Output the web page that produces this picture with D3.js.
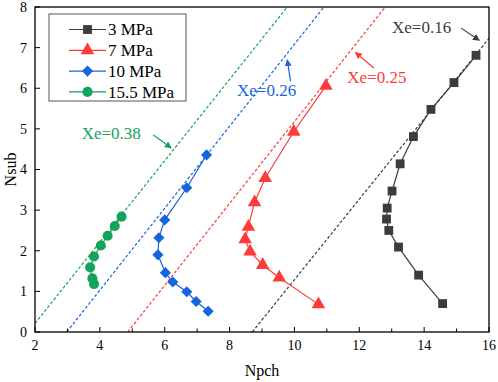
<!DOCTYPE html>
<html lang="en">
<head>
    <meta charset="UTF-8">
    <title>Nsub vs Npch</title>
    <style>
        body, html {
            margin: 0;
            padding: 0;
            background: #fff;
        }
        svg text {
            font-family: "Liberation Serif", "Times New Roman", serif;
        }
    </style>
    <script src="https://d3js.org/d3.v7.min.js"></script>
</head>
<body>
    <div id="chart"></div>
    <script>
        // series values
        const seriesNames = ["3 MPa", "7 MPa", "10 MPa", "15.5 MPa"];
        const npch3 = [15.60, 14.92, 14.21, 13.67, 13.26, 13.01, 12.86, 12.84, 12.91, 13.21, 13.83, 14.57];
        const nsub3 = [6.81, 6.14, 5.48, 4.81, 4.14, 3.47, 3.05, 2.78, 2.50, 2.09, 1.40, 0.70];
        const npch7 = [10.97, 9.98, 9.10, 8.77, 8.58, 8.48, 8.63, 9.02, 9.53, 10.74];
        const nsub7 = [6.06, 4.93, 3.79, 3.19, 2.59, 2.28, 1.98, 1.65, 1.34, 0.68];
        const npch10 = [7.29, 6.68, 6.00, 5.82, 5.79, 6.02, 6.25, 6.68, 6.97, 7.34];
        const nsub10 = [4.36, 3.55, 2.76, 2.32, 1.90, 1.46, 1.23, 0.99, 0.75, 0.51];
        const npch155 = [4.67, 4.46, 4.24, 4.03, 3.82, 3.70, 3.77, 3.82];
        const nsub155 = [2.84, 2.61, 2.37, 2.13, 1.86, 1.59, 1.32, 1.18];

        // constant-quality lines, two end points each [npch, nsub]
        const xeLabels = ["Xe=0.16", "Xe=0.25", "Xe=0.26", "Xe=0.38"];
        const xeLines = [
            [[8.70, 0], [16.0, 7.23]],
            [[4.86, 0], [12.80, 8]],
            [[2.98, 0], [10.91, 8]],
            [[2.0, 0.21], [9.78, 8]]
        ];

        const xTicks = d3.range(2, 17, 1);
        const xLabelTicks = [2, 4, 6, 8, 10, 12, 14, 16];
        const yTicks = [0, 1, 2, 3, 4, 5, 6, 7, 8];

        const colors = ["#3c3c3c", "#fe3b3b", "#1566dc", "#13a35c"];
        const symbols = [d3.symbolSquare, d3.symbolTriangle, d3.symbolSquare, d3.symbolCircle];
        const symSizes = [78, 80, 62, 80];
        const symRotate = [0, 0, 45, 0];

        // annotation placement (data coordinates): text anchor, arrow from -> to
        const notes = [
            {text: [13.01, 7.36], from: [15.14, 7.48], to: [15.70, 7.18]},
            {text: [11.63, 6.13], from: [12.45, 6.50], to: [11.88, 6.88]},
            {text: [8.23, 5.80], from: [9.88, 6.17], to: [9.78, 6.70]},
            {text: [3.44, 4.75], from: [5.65, 4.85], to: [6.20, 4.53]}
        ];

        const width = 498, height = 382;
        const margin = {top: 7, right: 9, bottom: 50, left: 35};
        const iw = width - margin.left - margin.right;
        const ih = height - margin.top - margin.bottom;

        const x = d3.scaleLinear().domain([2, 16]).range([0, iw]);
        const y = d3.scaleLinear().domain([0, 8]).range([ih, 0]);

        const svg = d3.select("#chart").append("svg")
            .attr("width", width)
            .attr("height", height);

        const defs = svg.append("defs");
        defs.append("clipPath").attr("id", "plotClip")
            .append("rect").attr("width", iw).attr("height", ih);

        colors.forEach((c, i) => {
            defs.append("marker")
                .attr("id", "arrow" + i)
                .attr("viewBox", "0 0 10 10")
                .attr("refX", 9).attr("refY", 5)
                .attr("markerWidth", 7).attr("markerHeight", 7)
                .attr("markerUnits", "userSpaceOnUse")
                .attr("orient", "auto")
                .append("path")
                .attr("d", "M0,0 L10,5 L0,10 Z")
                .attr("fill", c);
        });

        const g = svg.append("g")
            .attr("transform", `translate(${margin.left},${margin.top})`);

        // quality lines
        g.append("g").attr("clip-path", "url(#plotClip)")
            .selectAll("line.xe")
            .data(xeLines)
            .join("line")
            .attr("class", "xe")
            .attr("x1", d => x(d[0][0])).attr("y1", d => y(d[0][1]))
            .attr("x2", d => x(d[1][0])).attr("y2", d => y(d[1][1]))
            .attr("stroke", (d, i) => colors[i])
            .attr("stroke-width", 1.2)
            .attr("stroke-dasharray", "3,2");

        // series
        const series = [
            npch3.map((v, i) => [v, nsub3[i]]),
            npch7.map((v, i) => [v, nsub7[i]]),
            npch10.map((v, i) => [v, nsub10[i]]),
            npch155.map((v, i) => [v, nsub155[i]])
        ];

        const line = d3.line().x(d => x(d[0])).y(d => y(d[1]));

        series.forEach((pts, i) => {
            g.append("path")
                .datum(pts)
                .attr("d", line)
                .attr("fill", "none")
                .attr("stroke", colors[i])
                .attr("stroke-width", 1.2);

            g.selectAll(".pt" + i)
                .data(pts)
                .join("path")
                .attr("class", "pt" + i)
                .attr("d", d3.symbol().type(symbols[i]).size(symSizes[i]))
                .attr("transform", d => `translate(${x(d[0])},${y(d[1])}) rotate(${symRotate[i]})`)
                .attr("fill", colors[i]);
        });

        // annotations
        notes.forEach((n, i) => {
            g.append("text")
                .attr("x", x(n.text[0]))
                .attr("y", y(n.text[1]))
                .attr("fill", colors[i])
                .attr("font-size", 17)
                .text(xeLabels[i]);
            g.append("line")
                .attr("x1", x(n.from[0])).attr("y1", y(n.from[1]))
                .attr("x2", x(n.to[0])).attr("y2", y(n.to[1]))
                .attr("stroke", colors[i])
                .attr("stroke-width", 1.2)
                .attr("marker-end", `url(#arrow${i})`);
        });

        // ticks (inward)
        g.selectAll(".xtick")
            .data(xTicks)
            .join("line")
            .attr("x1", d => x(d)).attr("x2", d => x(d))
            .attr("y1", ih).attr("y2", d => ih - (d % 2 === 0 ? 5 : 3.5))
            .attr("stroke", "#000").attr("stroke-width", 1);

        g.selectAll(".ytick")
            .data(yTicks)
            .join("line")
            .attr("x1", 0).attr("x2", 5)
            .attr("y1", d => y(d)).attr("y2", d => y(d))
            .attr("stroke", "#000").attr("stroke-width", 1);

        g.selectAll(".xlab")
            .data(xLabelTicks)
            .join("text")
            .attr("x", d => x(d))
            .attr("y", ih + 18)
            .attr("text-anchor", "middle")
            .attr("font-size", 14)
            .text(d => d);

        g.selectAll(".ylab")
            .data(yTicks)
            .join("text")
            .attr("x", -8)
            .attr("y", d => y(d))
            .attr("dy", "0.35em")
            .attr("text-anchor", "end")
            .attr("font-size", 14)
            .text(d => d);

        // frame
        g.append("rect")
            .attr("width", iw).attr("height", ih)
            .attr("fill", "none")
            .attr("stroke", "#000")
            .attr("stroke-width", 1.3);

        // axis titles
        svg.append("text")
            .attr("x", margin.left + iw / 2)
            .attr("y", 376)
            .attr("text-anchor", "middle")
            .attr("font-size", 16)
            .text("Npch");

        svg.append("text")
            .attr("transform", `translate(16,${margin.top + ih / 2}) rotate(-90)`)
            .attr("text-anchor", "middle")
            .attr("font-size", 16)
            .text("Nsub");

        // legend
        const legend = svg.append("g").attr("transform", "translate(49,14)");
        legend.append("rect")
            .attr("width", 137).attr("height", 87)
            .attr("fill", "#fff")
            .attr("stroke", "#555")
            .attr("stroke-width", 1);

        seriesNames.forEach((name, i) => {
            const row = legend.append("g")
                .attr("transform", `translate(0,${15.5 + i * 20.8})`);
            row.append("line")
                .attr("x1", 20).attr("x2", 57)
                .attr("stroke", colors[i]).attr("stroke-width", 1.2);
            row.append("path")
                .attr("d", d3.symbol().type(symbols[i]).size(symSizes[i]))
                .attr("transform", `translate(38.5,0) rotate(${symRotate[i]})`)
                .attr("fill", colors[i]);
            row.append("text")
                .attr("x", 59)
                .attr("dy", "0.35em")
                .attr("font-size", 17)
                .text(name);
        });
    </script>
</body>
</html>
